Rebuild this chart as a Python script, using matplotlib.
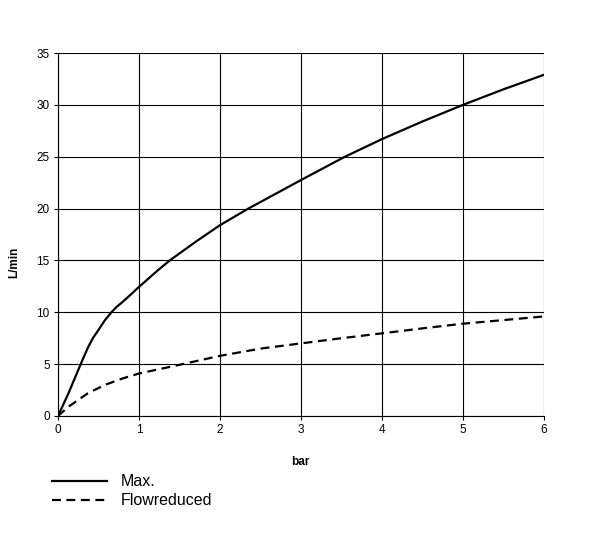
import matplotlib
matplotlib.use("Agg")
import matplotlib.pyplot as plt

plt.rcParams['font.family'] = ['Liberation Sans', 'DejaVu Sans']

max_x = [0, 0.13, 0.28, 0.33, 0.37, 0.43, 0.5, 0.58, 0.66, 0.72, 0.79, 0.89, 1.0, 1.24, 1.38, 1.7, 2.0, 2.35, 3.0, 3.53, 4.0, 4.5, 5.0, 5.5, 6.0]
max_y = [0, 2.2, 5.0, 5.9, 6.6, 7.5, 8.3, 9.25, 10.0, 10.5, 10.95, 11.65, 12.45, 14.1, 15.0, 16.8, 18.4, 20.0, 22.75, 24.95, 26.7, 28.4, 30.0, 31.5, 32.9]

flow_x = [0, 0.13, 0.37, 0.58, 0.79, 1.0, 1.42, 2.0, 2.5, 3.0, 3.5, 4.0, 4.5, 5.0, 5.5, 6.0]
flow_y = [0, 0.9, 2.2, 3.0, 3.6, 4.1, 4.8, 5.8, 6.5, 7.0, 7.5, 7.97, 8.45, 8.9, 9.25, 9.6]

x_ticks = [0, 1, 2, 3, 4, 5, 6]
y_ticks = [0, 5, 10, 15, 20, 25, 30, 35]

fig = plt.figure(figsize=(5.99, 5.47), dpi=100)
ax = fig.add_axes([58/599, 1-416/547, (544-58)/599, (416-53)/547])

l1, = ax.plot(max_x, max_y, color='black', lw=1.6, solid_joinstyle='round')
l2, = ax.plot(flow_x, flow_y, color='black', lw=1.6, ls=(0, (4, 2.5)), dash_joinstyle='round')

ax.set_xlim(0, 6)
ax.set_ylim(0, 35)
ax.set_xticks(x_ticks)
ax.set_yticks(y_ticks)
ax.grid(True, color='black', lw=0.8)
ax.set_axisbelow(True)
for s in ax.spines.values():
    s.set_visible(False)
ax.spines['left'].set_visible(True)
ax.spines['bottom'].set_visible(True)
ax.spines['left'].set_linewidth(0.8)
ax.spines['bottom'].set_linewidth(0.8)
ax.tick_params(length=3, width=0.8, labelsize=8.5, pad=3)

fig.text(14/599, 1-262/547, 'L/min', rotation=90, ha='center', va='center', fontsize=8.5, fontweight='bold')
fig.text(300/599, 1-462/547, 'bar', ha='center', va='center', fontsize=8.5, fontweight='bold')

fig.legend([l1, l2], ['Max.', 'Flowreduced'], loc='upper left',
           bbox_to_anchor=(46/599, 1-468/547), frameon=False, fontsize=11.5,
           handlelength=3.45, handletextpad=0.8, labelspacing=0.25, borderaxespad=0)

fig.savefig('out.png', dpi=100)
